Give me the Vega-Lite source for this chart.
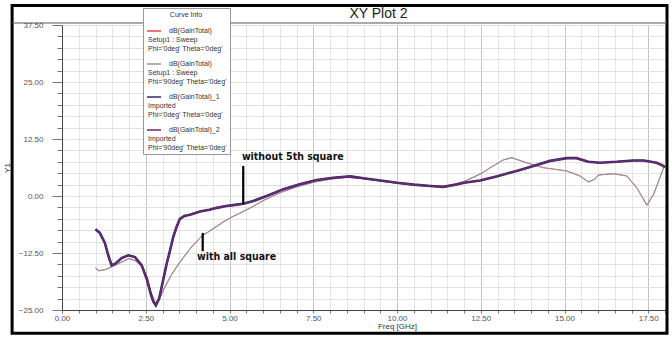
{
  "$schema": "https://vega.github.io/schema/vega-lite/v6.json",
  "width": 603,
  "height": 285,
  "autosize": {"type": "none"},
  "padding": {"left": 62, "top": 25, "right": 7, "bottom": 28},
  "background": "white",
  "title": {"text": "XY Plot 2", "fontSize": 14, "fontWeight": "normal", "font": "Liberation Sans", "color": "#222", "dx": 15, "offset": -17, "anchor": "middle"},
  "config": {"view": {"stroke": "#444", "strokeWidth": 1}, "font": "Liberation Sans"},
  "datasets": {
    "setup": [
      {"f":1.0,"S0":-15.8,"S90":-15.8},{"f":1.1,"S0":-16.4,"S90":-16.4},{"f":1.3,"S0":-16.1,"S90":-16.1},{"f":1.5,"S0":-15.5,"S90":-15.5},
      {"f":1.75,"S0":-14.6,"S90":-14.6},{"f":2.0,"S0":-13.7,"S90":-13.7},{"f":2.2,"S0":-14.2,"S90":-14.2},{"f":2.4,"S0":-15.6,"S90":-15.6},
      {"f":2.55,"S0":-18.0,"S90":-18.0},{"f":2.65,"S0":-21.0,"S90":-21.0},{"f":2.78,"S0":-23.6,"S90":-23.6},{"f":2.93,"S0":-22.2,"S90":-22.2},
      {"f":3.07,"S0":-20.0,"S90":-20.0},{"f":3.27,"S0":-17.2,"S90":-17.2},{"f":3.52,"S0":-14.5,"S90":-14.5},{"f":3.82,"S0":-11.6,"S90":-11.6},
      {"f":4.17,"S0":-8.8,"S90":-8.8},{"f":4.47,"S0":-7.4,"S90":-7.4},{"f":4.81,"S0":-5.7,"S90":-5.7},{"f":5.1,"S0":-4.5,"S90":-4.5},
      {"f":5.41,"S0":-3.4,"S90":-3.4},{"f":5.7,"S0":-2.3,"S90":-2.3},{"f":6.01,"S0":-1.0,"S90":-1.0},{"f":6.5,"S0":0.7,"S90":0.7},
      {"f":7.0,"S0":2.0,"S90":2.0},{"f":7.5,"S0":3.0,"S90":3.0},{"f":8.0,"S0":3.7,"S90":3.7},{"f":8.5,"S0":4.1,"S90":4.1},
      {"f":9.0,"S0":3.8,"S90":3.8},{"f":9.5,"S0":3.3,"S90":3.3},{"f":10.0,"S0":2.8,"S90":2.8},{"f":10.5,"S0":2.4,"S90":2.4},
      {"f":11.0,"S0":2.1,"S90":2.1},{"f":11.38,"S0":2.1,"S90":2.1},{"f":11.6,"S0":2.4,"S90":2.4},{"f":11.98,"S0":3.1,"S90":3.1},
      {"f":12.48,"S0":4.8,"S90":4.8},{"f":12.87,"S0":6.6,"S90":6.6},{"f":13.17,"S0":7.9,"S90":7.9},{"f":13.42,"S0":8.4,"S90":8.4},
      {"f":13.87,"S0":7.3,"S90":7.3},{"f":14.37,"S0":6.2,"S90":6.2},{"f":15.07,"S0":5.5,"S90":5.5},{"f":15.46,"S0":4.4,"S90":4.4},
      {"f":15.71,"S0":3.1,"S90":3.1},{"f":15.91,"S0":3.7,"S90":3.7},{"f":16.01,"S0":4.6,"S90":4.6},{"f":16.46,"S0":4.9,"S90":4.9},
      {"f":16.86,"S0":4.4,"S90":4.4},{"f":17.16,"S0":1.8,"S90":1.8},{"f":17.46,"S0":-2.0,"S90":-2.0},{"f":17.66,"S0":0.4,"S90":0.4},
      {"f":17.81,"S0":3.3,"S90":3.3},{"f":17.96,"S0":6.2,"S90":6.2}
    ],
    "imported": [
      {"f":1.0,"I0":-7.3,"I90":-7.3},{"f":1.13,"I0":-8.1,"I90":-8.1},{"f":1.28,"I0":-10.3,"I90":-10.3},{"f":1.38,"I0":-13.0,"I90":-13.0},
      {"f":1.48,"I0":-15.2,"I90":-15.2},{"f":1.6,"I0":-14.8,"I90":-14.8},{"f":1.78,"I0":-13.6,"I90":-13.6},{"f":1.98,"I0":-13.0,"I90":-13.0},
      {"f":2.18,"I0":-13.4,"I90":-13.4},{"f":2.38,"I0":-15.2,"I90":-15.2},{"f":2.53,"I0":-18.2,"I90":-18.2},{"f":2.65,"I0":-21.5,"I90":-21.5},
      {"f":2.73,"I0":-23.2,"I90":-23.2},{"f":2.8,"I0":-24.0,"I90":-24.0},{"f":2.9,"I0":-22.5,"I90":-22.5},{"f":3.02,"I0":-18.4,"I90":-18.4},
      {"f":3.12,"I0":-15.0,"I90":-15.0},{"f":3.22,"I0":-12.1,"I90":-12.1},{"f":3.32,"I0":-9.0,"I90":-9.0},{"f":3.42,"I0":-6.8,"I90":-6.8},
      {"f":3.52,"I0":-5.0,"I90":-5.0},{"f":3.65,"I0":-4.4,"I90":-4.4},{"f":3.82,"I0":-4.1,"I90":-4.1},{"f":4.12,"I0":-3.4,"I90":-3.4},
      {"f":4.4,"I0":-3.0,"I90":-3.0},{"f":4.62,"I0":-2.6,"I90":-2.6},{"f":4.9,"I0":-2.2,"I90":-2.2},{"f":5.11,"I0":-2.0,"I90":-2.0},
      {"f":5.41,"I0":-1.7,"I90":-1.7},{"f":5.71,"I0":-1.1,"I90":-1.1},{"f":6.11,"I0":0.0,"I90":0.0},{"f":6.61,"I0":1.5,"I90":1.5},
      {"f":7.1,"I0":2.6,"I90":2.6},{"f":7.6,"I0":3.5,"I90":3.5},{"f":8.1,"I0":4.0,"I90":4.0},{"f":8.6,"I0":4.3,"I90":4.3},
      {"f":9.0,"I0":3.9,"I90":3.9},{"f":9.5,"I0":3.4,"I90":3.4},{"f":10.0,"I0":2.9,"I90":2.9},{"f":10.5,"I0":2.5,"I90":2.5},
      {"f":11.0,"I0":2.2,"I90":2.2},{"f":11.38,"I0":2.0,"I90":2.0},{"f":11.78,"I0":2.5,"I90":2.5},{"f":12.0,"I0":2.9,"I90":2.9},
      {"f":12.48,"I0":3.4,"I90":3.4},{"f":12.97,"I0":4.3,"I90":4.3},{"f":13.37,"I0":5.1,"I90":5.1},{"f":13.57,"I0":5.5,"I90":5.5},
      {"f":14.07,"I0":6.6,"I90":6.6},{"f":14.57,"I0":7.7,"I90":7.7},{"f":15.07,"I0":8.3,"I90":8.3},{"f":15.36,"I0":8.3,"I90":8.3},
      {"f":15.71,"I0":7.5,"I90":7.5},{"f":16.06,"I0":7.3,"I90":7.3},{"f":16.56,"I0":7.5,"I90":7.5},{"f":17.06,"I0":7.8,"I90":7.8},
      {"f":17.36,"I0":7.8,"I90":7.8},{"f":17.75,"I0":7.3,"I90":7.3},{"f":17.95,"I0":6.6,"I90":6.6},{"f":18.0,"I0":6.3,"I90":6.3}
    ],
    "notes": [
      {"t": "without 5th square", "f": 5.37, "db": 8.6},
      {"t": "with all square", "f": 4.03, "db": -13.4}
    ],
    "pointers": [
      {"f": 5.41, "db": 6.6, "db2": -1.8},
      {"f": 4.2, "db": -8.1, "db2": -12.1}
    ],
    "frame": [
      {"f": -1.49, "f2": 18.06, "db": 41.8, "db2": -30.1}
    ],
    "header": [
      {"f": -1.49, "f2": 18.06, "db": 37.94}
    ]
  },
  "encoding": {
    "x": {
      "field": "f", "type": "quantitative", "title": "Freq [GHz]",
      "scale": {"domain": [0, 18], "nice": false, "zero": false},
      "axis": {
        "values": [0,0.5,1,1.5,2,2.5,3,3.5,4,4.5,5,5.5,6,6.5,7,7.5,8,8.5,9,9.5,10,10.5,11,11.5,12,12.5,13,13.5,14,14.5,15,15.5,16,16.5,17,17.5,18],
        "labelExpr": "datum.value % 2.5 === 0 ? format(datum.value, '.2f') : ''",
        "labelFontSize": 8, "labelColor": "#555", "labelPadding": 1, "labelFlush": false,
        "tickSize": 3, "tickColor": "#777",
        "domainColor": "#444",
        "grid": true,
        "gridColor": {"condition": {"test": "datum.value % 2.5 === 0", "value": "#c4c4c4"}, "value": "#e4e4e4"},
        "titleFontSize": 8, "titleFontWeight": "normal", "titleColor": "#333", "titlePadding": 0, "titleX": 335
      }
    },
    "y": {
      "field": "db", "type": "quantitative", "title": "Y1",
      "scale": {"domain": [-25, 37.5], "nice": false, "zero": false},
      "axis": {
        "values": [-25,-22.5,-20,-17.5,-15,-12.5,-10,-7.5,-5,-2.5,0,2.5,5,7.5,10,12.5,15,17.5,20,22.5,25,27.5,30,32.5,35,37.5],
        "labelExpr": "datum.value % 12.5 === 0 ? format(datum.value, '.2f') : ''",
        "labelFontSize": 8, "labelColor": "#555", "labelPadding": 9, "labelFlush": false,
        "tickSize": {"condition": {"test": "datum.value % 12.5 === 0", "value": 10}, "value": 5},
        "tickColor": "#777",
        "domainColor": "#444",
        "grid": true,
        "gridColor": "#e2e2e2",
        "titleFontSize": 8, "titleFontWeight": "normal", "titleColor": "#333", "titlePadding": 7
      }
    }
  },
  "layer": [
    {
      "data": {"name": "setup"},
      "transform": [{"fold": ["S0"], "as": ["curve", "db"]}],
      "mark": {"type": "line", "strokeWidth": 0.9},
      "encoding": {
        "color": {
          "field": "curve", "type": "nominal",
          "scale": {"domain": ["S0", "S90", "I0", "I90"], "range": ["#e04848", "#9c949c", "#2b2b6b", "#6b2a6b"]},
          "legend": {
            "orient": "none", "legendX": 81, "legendY": -17,
            "title": "Curve Info", "titleFontSize": 7, "titleFontWeight": "normal", "titleAnchor": "middle", "titleColor": "#333", "titlePadding": 5,
            "labelFontSize": 7, "labelColor": "#333", "labelLimit": 200, "labelOffset": -14,
            "labelExpr": "datum.label === 'S0' ? [\"\u200b\u2003\u2003\u2003dB(GainTotal)\", 'Setup1 : Sweep', \"Phi='0deg' Theta='0deg'\"] : datum.label === 'S90' ? [\"\u200b\u2003\u2003\u2003dB(GainTotal)\", 'Setup1 : Sweep', \"Phi='90deg' Theta='0deg'\"] : datum.label === 'I0' ? [\"\u200b\u2003\u2003\u2003dB(GainTotal)_1\", 'Imported', \"Phi='0deg' Theta='0deg'\"] : [\"\u200b\u2003\u2003\u2003dB(GainTotal)_2\", 'Imported', \"Phi='90deg' Theta='0deg'\"]",
            "symbolType": "stroke", "symbolSize": 196, "symbolStrokeWidth": 1.5,
            "strokeColor": "#999", "fillColor": "white", "padding": 3, "rowPadding": 4
          }
        }
      }
    },
    {
      "data": {"name": "setup"},
      "transform": [{"fold": ["S90"], "as": ["curve", "db"]}],
      "mark": {"type": "line", "strokeWidth": 1.1},
      "encoding": {"color": {"field": "curve", "type": "nominal"}}
    },
    {
      "data": {"name": "imported"},
      "transform": [{"fold": ["I0"], "as": ["curve", "db"]}],
      "mark": {"type": "line", "strokeWidth": 2.6},
      "encoding": {"color": {"field": "curve", "type": "nominal"}}
    },
    {
      "data": {"name": "imported"},
      "transform": [{"fold": ["I90"], "as": ["curve", "db"]}],
      "mark": {"type": "line", "strokeWidth": 1.6},
      "encoding": {"color": {"field": "curve", "type": "nominal"}}
    },
    {
      "data": {"name": "pointers"},
      "mark": {"type": "rule", "color": "black", "strokeWidth": 2.2},
      "encoding": {
        "y2": {"field": "db2"}
      }
    },
    {
      "data": {"name": "notes"},
      "mark": {"type": "text", "align": "left", "baseline": "middle", "fontSize": 10.5, "fontWeight": "bold", "font": "DejaVu Sans Condensed, DejaVu Sans, sans-serif", "color": "#111"},
      "encoding": {
        "text": {"field": "t"}
      }
    },
    {
      "data": {"name": "frame"},
      "mark": {"type": "rect", "fill": "transparent", "stroke": "black", "strokeWidth": 3, "clip": false},
      "encoding": {
        "x2": {"field": "f2"},
        "y2": {"field": "db2"}
      }
    },
    {
      "data": {"name": "header"},
      "mark": {"type": "rule", "stroke": "#555", "strokeWidth": 1, "clip": false},
      "encoding": {
        "x2": {"field": "f2"}
      }
    }
  ]
}
